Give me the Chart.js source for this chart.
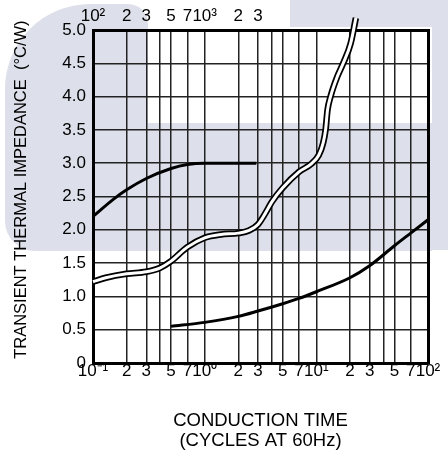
<!DOCTYPE html>
<html>
<head>
<meta charset="utf-8">
<script src="https://cdn.jsdelivr.net/npm/chart.js@4.4.0/dist/chart.umd.min.js"></script>
<style>
  html, body { margin: 0; padding: 0; background: #fff; }
  #wrap { width: 448px; height: 457px; }
</style>
</head>
<body>
<div id="wrap"><canvas id="chart" width="448" height="457"></canvas></div>
<script>
// 下側の軸（導通時間・サイクル数）
const xTicks = [0.1, 0.2, 0.3, 0.4, 0.5, 0.7, 1, 2, 3, 4, 5, 7, 10, 20, 30, 40, 50, 70, 100];
const xLabels = ['10⁻¹', '2', '3', '', '5', '7', '10⁰', '2', '3', '', '5', '7', '10¹', '2', '3', '', '5', '7', '10²'];

// 上側の軸
const topTicks = [100, 200, 300, 400, 500, 700, 1000, 2000, 3000];
const topLabels = ['10²', '2', '3', '', '5', '7', '10³', '2', '3'];

// 上の太線
const upperX = [0.1, 0.15, 0.2, 0.3, 0.5, 0.7, 1, 2, 2.9];
const upperY = [2.2, 2.45, 2.6, 2.77, 2.92, 2.98, 3.0, 3.0, 3.0];

// 下の太線
const lowerX = [0.5, 1, 2, 3, 5, 7, 10, 20, 30, 50, 70, 100];
const lowerY = [0.55, 0.61, 0.70, 0.78, 0.89, 0.97, 1.07, 1.28, 1.46, 1.76, 1.95, 2.15];

// 二重線（白抜き）
const wavyX = [0.1, 0.13, 0.2, 0.3, 0.4, 0.5, 0.7, 1, 1.4, 2, 2.5, 3, 3.5, 4, 5, 7, 9, 10.5, 11.5, 12.1, 12.6, 13.4, 15.4, 17.4, 20.3, 22.6];
const wavyY = [1.22, 1.28, 1.34, 1.37, 1.43, 1.53, 1.74, 1.88, 1.93, 1.95, 1.99, 2.08, 2.25, 2.42, 2.63, 2.87, 2.99, 3.12, 3.3, 3.5, 3.8, 4.0, 4.3, 4.5, 4.8, 5.18];

const toPoints = (xs, ys) => xs.map((x, i) => ({ x: x, y: ys[i] }));

const FONT = 'Liberation Sans, Arial, Helvetica, sans-serif';

// 背景の透かし（薄いグレー）
const watermark = {
    id: 'watermark',
    beforeDraw(chart) {
        const c = chart.ctx;
        c.save();
        c.fillStyle = '#fff';
        c.fillRect(0, 0, chart.width, chart.height);
        c.fillStyle = '#dde0ea';
        c.beginPath();
        c.roundRect(5, 4, 143, 247, [85, 20, 0, 30]);
        c.fill();
        c.fillRect(93, 123, 339, 128);
        c.fillRect(290, 0, 158, 27);
        c.fillRect(432, 0, 16, 250);
        c.restore();
    }
};

const ctx = document.getElementById('chart').getContext('2d');
new Chart(ctx, {
    type: 'line',
    data: {
        datasets: [
            {
                data: toPoints(upperX, upperY),
                xAxisID: 'x', yAxisID: 'y', order: 2,
                borderColor: '#000', borderWidth: 3,
                pointRadius: 0, cubicInterpolationMode: 'monotone'
            },
            {
                data: toPoints(lowerX, lowerY),
                xAxisID: 'x', yAxisID: 'y', order: 2,
                borderColor: '#000', borderWidth: 3,
                pointRadius: 0, cubicInterpolationMode: 'monotone'
            },
            {
                // 二重線の外側（黒）
                data: toPoints(wavyX, wavyY),
                xAxisID: 'x', yAxisID: 'y', order: 1,
                borderColor: '#000', borderWidth: 6.5,
                pointRadius: 0, cubicInterpolationMode: 'monotone', clip: false
            },
            {
                // 二重線の内側（白）
                data: toPoints(wavyX, wavyY),
                xAxisID: 'x', yAxisID: 'y', order: 0,
                borderColor: '#fff', borderWidth: 3,
                pointRadius: 0, cubicInterpolationMode: 'monotone', clip: false
            }
        ]
    },
    options: {
        responsive: false,
        animation: false,
        layout: { padding: { right: 20 } },
        plugins: {
            legend: { display: false },
            tooltip: { enabled: false }
        },
        scales: {
            x: {
                type: 'logarithmic',
                position: 'bottom',
                min: 0.1, max: 100,
                afterBuildTicks: s => { s.ticks = xTicks.map(v => ({ value: v })); },
                afterFit: s => { s.height = 94; },
                ticks: {
                    autoSkip: false, maxRotation: 0, minRotation: 0, padding: 0,
                    color: '#000',
                    font: { family: FONT, size: 17, lineHeight: 1 },
                    callback: (v, i) => xLabels[i]
                },
                grid: { color: '#222', lineWidth: 1.5, drawTicks: false },
                border: { color: '#000', width: 3 },
                title: {
                    display: true,
                    text: ['CONDUCTION TIME', '(CYCLES AT 60Hz)'],
                    color: '#000',
                    font: { family: FONT, size: 18.5, lineHeight: 20 / 18.5 },
                    padding: { top: 0, bottom: 6 }
                }
            },
            xTop: {
                type: 'logarithmic',
                position: 'top',
                min: 100, max: 100000,
                afterBuildTicks: s => { s.ticks = topTicks.map(v => ({ value: v })); },
                afterFit: s => { s.height = 30; },
                ticks: {
                    autoSkip: false, maxRotation: 0, minRotation: 0, padding: 5,
                    color: '#000',
                    font: { family: FONT, size: 17, lineHeight: 1 },
                    callback: (v, i) => topLabels[i]
                },
                grid: { display: false, drawTicks: false },
                border: { color: '#000', width: 3 }
            },
            y: {
                min: 0, max: 5,
                afterFit: s => { s.width = 93; },
                ticks: {
                    stepSize: 0.5, padding: 7,
                    color: '#000',
                    font: { family: FONT, size: 17 },
                    callback: v => v === 0 ? '0' : v.toFixed(1)
                },
                grid: { color: '#222', lineWidth: 1.5, drawTicks: false },
                border: { color: '#000', width: 3 },
                title: {
                    display: true,
                    // 先頭の空白で少し上に寄せる
                    text: '\u00a0\u00a0\u00a0TRANSIENT THERMAL IMPEDANCE  (°C/W)',
                    color: '#000',
                    font: { family: FONT, size: 16.5 },
                    padding: { top: 12, bottom: 0 }
                }
            },
            yRight: {
                position: 'right',
                min: 0, max: 5,
                afterFit: s => { s.width = 0; },
                ticks: { display: false },
                grid: { display: false, drawTicks: false },
                border: { color: '#000', width: 3 }
            }
        }
    },
    plugins: [watermark]
});
</script>
</body>
</html>
